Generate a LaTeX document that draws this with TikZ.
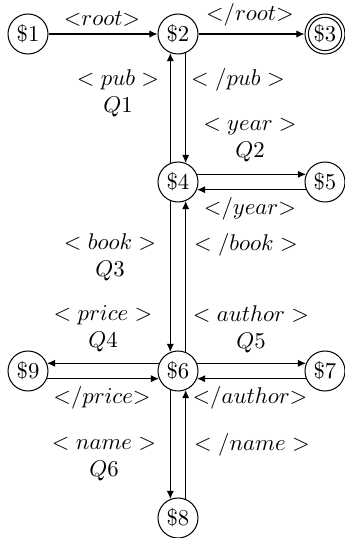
\documentclass[tikz,border=0pt]{standalone}
\usetikzlibrary{arrows.meta}
\tikzset{
  st/.style={circle,draw,line width=0.45pt,minimum size=17.6pt,inner sep=0pt},
  arr/.style={line width=0.45pt,-{Latex[length=3.6pt,width=3.2pt]}},
  lbl/.style={align=center,inner sep=0pt}
}
\begin{document}
\begin{tikzpicture}[x=0.44pt,y=-0.44pt]
\useasboundingbox (0,0) rectangle (344,538);
% states
\node[st] (s1) at (28,34) {\$1};
\node[st] (s2) at (178,34) {\$2};
\node[st] (s3) at (325,34) {\$3};
\node[st] (s4) at (178,182) {\$4};
\node[st] (s5) at (325,182) {\$5};
\node[st] (s9) at (28,371) {\$9};
\node[st] (s6) at (178,371) {\$6};
\node[st] (s7) at (325,371) {\$7};
\node[st] (s8) at (178,518) {\$8};
\draw[line width=0.45pt] (s3.center) circle (7.3pt);
% connectors
\draw[arr] (s1) -- (s2);
\draw[arr] (s2) -- (s3);
\draw[arr] (s4.112) -- (s2.248);
\draw[arr] (s2.292) -- (s4.68);
\draw[arr] (s4.22) -- (s5.158);
\draw[arr] (s5.202) -- (s4.338);
\draw[arr] (s4.248) -- (s6.112);
\draw[arr] (s6.68) -- (s4.292);
\draw[arr] (s6.158) -- (s9.22);
\draw[arr] (s9.338) -- (s6.202);
\draw[arr] (s6.22) -- (s7.158);
\draw[arr] (s7.202) -- (s6.338);
\draw[arr] (s6.248) -- (s8.112);
\draw[arr] (s8.68) -- (s6.292);
% labels
\node[lbl] (l1) at (102,19) {${<}root{>}$};
\node[lbl] (l2) at (250,15) {${<}/root{>}$};
\node[lbl] (l3) at (118,93) {$<pub>$\\$Q1$};
\node[lbl] (l4) at (238,80) {$</pub>$};
\node[lbl] (l5) at (250,140) {$<year>$\\$Q2$};
\node[lbl] (l6) at (250,209) {${<}/year{>}$};
\node[lbl] (l7) at (110,257) {$<book>$\\$Q3$};
\node[lbl] (l8) at (246,245) {$</book>$};
\node[lbl] (l9) at (103,329) {$<price>$\\$Q4$};
\node[lbl] (l10) at (251,329) {$<author>$\\$Q5$};
\node[lbl] (l11) at (102,398) {${<}/price{>}$};
\node[lbl] (l12) at (250,398) {${<}/author{>}$};
\node[lbl] (l13) at (104,459) {$<name>$\\$Q6$};
\node[lbl] (l14) at (252,445) {$</name>$};
\end{tikzpicture}
\end{document}
